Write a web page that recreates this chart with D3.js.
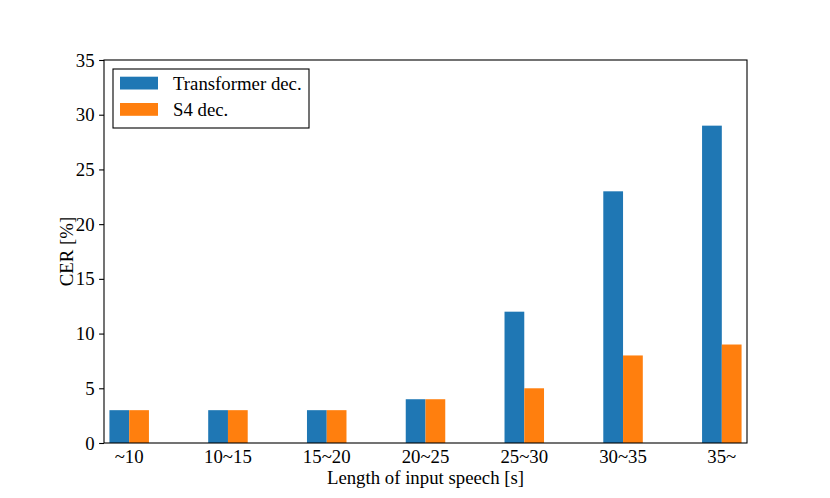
<!DOCTYPE html>
<html>
<head>
<meta charset="utf-8">
<script src="https://cdn.jsdelivr.net/npm/d3@7"></script>
<style>
  body { margin: 0; background: #fff; }
  text { font-family: "Liberation Serif", "Times New Roman", serif; fill: #000; }
</style>
</head>
<body>
<div id="chart"></div>
<script>
// data
var categories = ["~10", "10~15", "15~20", "20~25", "25~30", "30~35", "35~"];
var transformerDec = [3, 3, 3, 4, 12, 23, 29];
var s4Dec = [3, 3, 3, 4, 5, 8, 9];
var yTicks = [0, 5, 10, 15, 20, 25, 30, 35];

var series = [
    { key: "tr", name: "Transformer dec.", values: transformerDec, color: "#1f77b4", offset: -0.2 },
    { key: "s4", name: "S4 dec.", values: s4Dec, color: "#ff7f0e", offset: 0 }
];

var W = 830, H = 498;
var margin = { top: 60, right: 83, bottom: 55, left: 104 };
var width = W - margin.left - margin.right,
    height = H - margin.top - margin.bottom;
var barW = 0.2;
var fontSize = 18.8;

var svg = d3.select("#chart").append("svg")
    .attr("width", W)
    .attr("height", H);

var g = svg.append("g")
    .attr("transform", "translate(" + margin.left + "," + margin.top + ")");

// scales
var x = d3.scaleLinear()
    .domain([-0.255, categories.length - 1 + 0.255])
    .range([0, width]);

var y = d3.scaleLinear()
    .domain([0, 35])
    .range([height, 0]);

// bars
series.forEach(function(s) {
    g.selectAll(".bar-" + s.key)
        .data(s.values)
        .enter().append("rect")
        .attr("class", "bar-" + s.key)
        .attr("x", function(d, i) { return x(i + s.offset); })
        .attr("width", x(barW) - x(0))
        .attr("y", function(d) { return y(d); })
        .attr("height", function(d) { return y(0) - y(d); })
        .attr("fill", s.color);
});

// y axis
var yAxis = d3.axisLeft(y)
    .tickValues(yTicks)
    .tickSize(4.9)
    .tickPadding(4.5);

var yG = g.append("g").call(yAxis);
yG.select(".domain").remove();
yG.selectAll("line").attr("stroke", "#000").attr("stroke-width", 1.1);
yG.selectAll("text")
    .style("font-size", fontSize + "px")
    .style("font-family", "Liberation Serif, serif");

// x tick labels (no tick marks)
g.selectAll(".xlab")
    .data(categories)
    .enter().append("text")
    .attr("class", "xlab")
    .attr("x", function(d, i) { return x(i); })
    .attr("y", height + 20)
    .attr("text-anchor", "middle")
    .style("font-size", fontSize + "px")
    .text(function(d) { return d; });

// frame
g.append("rect")
    .attr("width", width)
    .attr("height", height)
    .attr("fill", "none")
    .attr("stroke", "#000")
    .attr("stroke-width", 1.1);

// axis titles
g.append("text")
    .attr("text-anchor", "middle")
    .attr("transform", "translate(" + (width / 2) + "," + (height + 41) + ")")
    .style("font-size", fontSize + "px")
    .text("Length of input speech [s]");

g.append("text")
    .attr("text-anchor", "middle")
    .attr("transform", "translate(-31," + (height / 2) + ")rotate(-90)")
    .style("font-size", fontSize + "px")
    .text("CER [%]");

// legend
var legend = g.append("g")
    .attr("transform", "translate(9,9)");

legend.append("rect")
    .attr("width", 196)
    .attr("height", 59)
    .attr("fill", "#fff")
    .attr("stroke", "#000")
    .attr("stroke-width", 1.1);

series.forEach(function(s, i) {
    var row = legend.append("g")
        .attr("transform", "translate(0," + (i * 26.3) + ")");
    row.append("rect")
        .attr("x", 7)
        .attr("y", 7.7)
        .attr("width", 38)
        .attr("height", 12.8)
        .attr("fill", s.color);
    row.append("text")
        .attr("x", 60)
        .attr("y", 21)
        .style("font-size", fontSize + "px")
        .text(s.name);
});
</script>
</body>
</html>
